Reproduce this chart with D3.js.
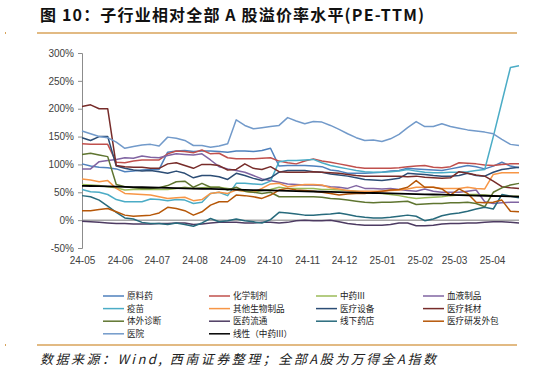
<!DOCTYPE html>
<html lang="zh">
<head>
<meta charset="utf-8">
<title>子行业相对全部A股溢价率水平</title>
<script src="https://cdn.jsdelivr.net/npm/d3@7"></script>
<style>
  body { margin: 0; background: #fff; }
  svg { display: block; }
  .axis text { font-family: "Liberation Sans", Arial, sans-serif; font-size: 10px; fill: #404040; }
  .axis path, .axis line { stroke: #8c8c8c; }
  .legend text { font-family: "Noto Sans CJK SC", sans-serif; font-size: 8.6px; fill: #222; }
</style>
</head>
<body>
<script>
// weekly data, first point 2024-05-03
var startDate = new Date(2024, 4, 3);
var monthLabels = ["24-05","24-06","24-07","24-08","24-09","24-10","24-11","24-12","25-01","25-02","25-03","25-04"];
var yTicks = [-50, 0, 50, 100, 150, 200, 250, 300];

var seriesNames = ["原料药","化学制剂","中药III","血液制品","疫苗","其他生物制品","医疗设备","医疗耗材","体外诊断","医药流通","线下药店","医疗研发外包","医院"];
var seriesColors = ["#4F81BD","#C0504D","#9BBB59","#8064A2","#4BACC6","#F79646","#2C4D75","#772C2A","#5F7530","#4D3B62","#276A7C","#B65708","#729ACA"];

var yuanliaoyao = [101,97,95,94,92,87,88,90,91,91,122,124,125,123,124,124,123,122,124,124,123,125,129,97,98,98,98,97,96,90,88,84,84,84,85,86,88,89,93,92,91,90,89,92,95,98,96,92,97,104,97,94];
var huaxuezhiji = [137,136,136,136,104,103,106,108,108,108,119,124,123,121,126,119,120,112,110,110,110,111,112,106,103,101,106,110,106,104,101,98,95,93,93,93,93,94,96,97,98,95,94,96,103,102,101,99,98,100,101,101];
var zhongyao = [64,63,62,60,58,54,55,55,55,55,55,57,59,57,58,59,59,57,54,52,50,53,55,59,57,57,57,57,55,55,54,53,52,50,49,48,46,44,41,39,40,41,42,44,45,46,46,45,44,43,43,43];
var xueye = [92,92,105,107,109,112,111,115,113,112,116,119,118,117,119,108,96,92,89,86,80,74,71,68,65,64,63,63,62,60,59,57,62,57,57,56,57,55,53,52,56,52,50,50,50,52,54,33,30,31,32,32];
var yimiao = [55,51,50,46,37,33,33,33,38,37,35,37,36,30,32,48,50,44,66,66,65,64,70,105,107,107,108,109,103,98,95,92,89,87,86,86,87,88,91,88,86,85,85,86,86,87,89,91,150,212,274,277];
var qitashengwu = [74,72,69,71,57,48,47,46,45,42,39,40,41,35,37,48,50,48,54,52,50,57,65,66,60,62,64,64,63,58,56,53,52,52,52,52,53,54,56,59,59,59,57,57,57,59,57,56,82,85,85,85];
var yiliaoshebei = [148,143,150,150,97,93,90,88,89,87,84,88,84,76,80,80,78,73,84,80,75,71,76,86,89,89,89,87,86,83,81,79,76,73,72,71,73,75,84,83,82,80,79,79,80,84,80,79,86,91,93,95];
var yiliaohaocai = [204,207,200,200,98,96,95,95,93,93,101,103,98,93,100,100,98,90,91,101,93,91,96,87,86,86,86,87,86,85,84,82,80,79,79,79,79,79,78,79,77,76,75,76,87,84,81,79,70,60,58,57];
var tiwaizhenduan = [118,120,117,114,64,60,58,57,57,58,62,69,70,59,66,59,59,54,59,52,50,48,50,42,42,42,42,42,41,39,38,36,34,32,31,32,32,33,34,28,29,30,30,31,31,32,30,24,50,58,63,66];
var yiyaoliutong = [-2,-3,-4,-5,-6,-6,-7,-7,-7,-6,-6,-5,-5,-8,-7,-5,-4,-4,-4,-5,-5,-4,-4,-5,-4,-1,0,-1,-1,0,-3,-6,-8,-9,-9,-9,-8,-5,-5,-10,-10,-9,-7,-6,-6,-5,-5,-4,-3,-3,-4,-5];
var xianxiayaodian = [44,42,36,25,14,4,2,-4,-6,-6,-8,-5,-8,-11,-5,3,-3,-1,2,-1,-3,-5,1,14,13,11,9,9,10,11,13,10,7,5,4,4,5,7,9,7,-1,2,8,11,13,16,20,23,20,46,43,40];
var yanfawaibao = [17,17,19,21,15,9,7,8,9,13,23,21,17,9,15,27,33,33,45,44,42,39,45,54,57,54,53,52,50,48,45,47,48,48,50,52,54,55,59,71,59,59,56,45,56,48,32,31,32,36,16,15];
var yiyuan = [160,155,150,148,140,129,132,135,136,133,149,147,143,134,134,131,133,137,180,170,164,166,168,170,184,178,173,177,176,170,163,155,148,143,144,141,146,154,166,177,168,168,173,168,165,162,160,158,155,145,136,134];

var seriesValues = [yuanliaoyao, huaxuezhiji, zhongyao, xueye, yimiao, qitashengwu, yiliaoshebei, yiliaohaocai, tiwaizhenduan, yiyaoliutong, xianxiayaodian, yanfawaibao, yiyuan];

var W = 539, H = 377;
var svg = d3.select("body").append("svg").attr("width", W).attr("height", H);

var dates = yiyuan.map(function(d, i) { return d3.timeDay.offset(startDate, 7 * i); });
var parseMonth = d3.timeParse("%y-%m");
var tickDates = monthLabels.map(function(m) { return d3.timeDay.offset(parseMonth(m), 2); });

var x = d3.scaleTime().domain([dates[0], dates[dates.length - 1]]).range([82, 519]);
var y = d3.scaleLinear().domain([-50, 300]).range([248, 53]);

// title
svg.append("text").attr("x", 40).attr("y", 21)
  .attr("font-family", "'Noto Sans CJK SC', sans-serif").attr("font-size", 16).attr("font-weight", "bold")
  .attr("fill", "#111")
  .attr("textLength", 384).attr("lengthAdjust", "spacing")
  .text("图 10：子行业相对全部 A 股溢价率水平(PE-TTM)");
svg.append("line").attr("x1", 37).attr("x2", 517).attr("y1", 33).attr("y2", 33)
  .attr("stroke", "#D8A35A").attr("stroke-width", 1.5);
svg.append("rect").attr("x", 5).attr("y", 32).attr("width", 1).attr("height", 2).attr("fill", "#D8A35A");

// zero line
svg.append("line").attr("x1", 82).attr("x2", 519).attr("y1", y(0)).attr("y2", y(0))
  .attr("stroke", "#A6A6A6").attr("stroke-width", 1.5);

// axes
var yAxis = d3.axisLeft(y).tickValues(yTicks).tickSize(4).tickPadding(4)
  .tickFormat(function(d) { return d + "%"; });
svg.append("g").attr("class", "axis").attr("transform", "translate(82,0)").call(yAxis);

var xAxis = d3.axisBottom(x).tickValues(tickDates).tickSize(0).tickPadding(9)
  .tickFormat(function(d, i) { return monthLabels[i]; });
var gx = svg.append("g").attr("class", "axis").attr("transform", "translate(0,248)").call(xAxis);
gx.select(".domain").remove();

// lines
var line = d3.line().x(function(d, i) { return x(dates[i]); }).y(function(d) { return y(d); });

seriesValues.forEach(function(vals, k) {
  svg.append("path").datum(vals)
    .attr("fill", "none").attr("stroke", seriesColors[k]).attr("stroke-width", 1.5)
    .attr("stroke-linejoin", "round")
    .attr("d", line);
});

// linear trend of 中药III
var xs = d3.range(zhongyao.length);
var mx = d3.mean(xs), my = d3.mean(zhongyao);
var slope = d3.sum(xs, function(i) { return (i - mx) * (zhongyao[i] - my); }) / d3.sum(xs, function(i) { return (i - mx) * (i - mx); });
var icpt = my - slope * mx;
var trend = xs.map(function(i) { return icpt + slope * i; });
svg.append("path").datum(trend)
  .attr("fill", "none").attr("stroke", "#000").attr("stroke-width", 1.8)
  .attr("d", line);

// legend
var legendItems = seriesNames.map(function(n, k) { return { name: n, color: seriesColors[k] }; });
legendItems.push({ name: "线性（中药III）", color: "#000" });
var colX = [103, 209, 316, 423];
var legend = svg.append("g").attr("class", "legend");
legendItems.forEach(function(d, k) {
  var cx = colX[k % 4], cy = 296 + Math.floor(k / 4) * 12.6;
  legend.append("line").attr("x1", cx).attr("x2", cx + 21).attr("y1", cy).attr("y2", cy)
    .attr("stroke", d.color).attr("stroke-width", 1.5);
  legend.append("text").attr("x", cx + 24).attr("y", cy + 3).text(d.name);
});

// footer
svg.append("line").attr("x1", 37).attr("x2", 517).attr("y1", 345).attr("y2", 345)
  .attr("stroke", "#D8A35A").attr("stroke-width", 1.5);
svg.append("rect").attr("x", 5).attr("y", 344).attr("width", 1).attr("height", 2).attr("fill", "#D8A35A");
svg.append("text").attr("x", 40).attr("y", 364)
  .attr("font-family", "'Noto Sans CJK SC', sans-serif").attr("font-size", 13).attr("font-style", "italic")
  .attr("fill", "#222")
  .attr("textLength", 396).attr("lengthAdjust", "spacing")
  .text("数据来源：Wind, 西南证券整理；全部A股为万得全A指数");
</script>
</body>
</html>
